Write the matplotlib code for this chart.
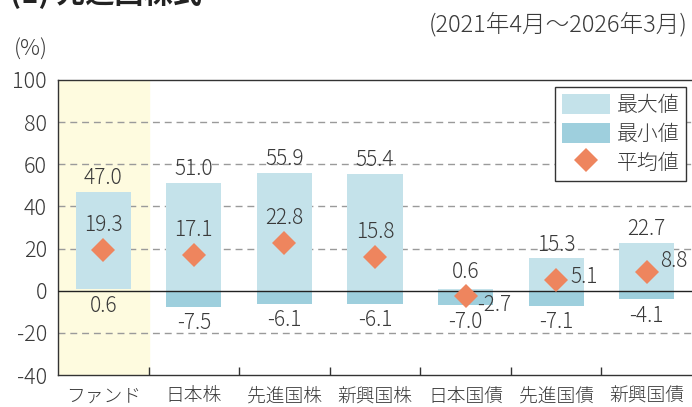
import numpy as np
import matplotlib
matplotlib.use("Agg")
import matplotlib.pyplot as plt
from matplotlib.patches import Patch
from matplotlib.lines import Line2D

plt.rcParams['font.family'] = ['Noto Sans CJK JP', 'DejaVu Sans']

categories = ['ファンド', '日本株', '先進国株', '新興国株', '日本国債', '先進国債', '新興国債']
max_vals = [47.0, 51.0, 55.9, 55.4, 0.6, 15.3, 22.7]
min_vals = [0.6, -7.5, -6.1, -6.1, -7.0, -7.1, -4.1]
mean_vals = [19.3, 17.1, 22.8, 15.8, -2.7, 5.1, 8.8]

c_light = '#c4e2ea'
c_dark = '#9ecfdd'
c_mean = '#ee855e'
c_text = '#3a3a3a'

fig = plt.figure(figsize=(6.92, 4.07), dpi=100)
ax = fig.add_axes([58/692, 32/407, 634/692, 295/407])

x = np.arange(len(categories))
w = 0.61

ax.axvspan(-0.5, 0.5, color='#fefbdf', zorder=0)

for i in x:
    lo, hi = min_vals[i], max_vals[i]
    if lo >= 0:
        ax.bar(i, hi - lo, bottom=lo, width=w, color=c_light, zorder=2)
    else:
        ax.bar(i, hi, width=w, color=c_light, zorder=2)
        ax.bar(i, lo, width=w, color=c_dark, zorder=2)

ax.plot(x, mean_vals, linestyle='none', marker='D', markersize=12,
        color=c_mean, markeredgewidth=0, zorder=4)

fs = 15
for i in x:
    top = max_vals[i]
    bot = min_vals[i]
    up = 2 if i != 4 else 5
    ax.annotate(f'{max_vals[i]:.1f}', (i, top), xytext=(0, up), textcoords='offset points',
                ha='center', va='bottom', fontsize=fs, color=c_text, fontweight='light', zorder=5)
    ax.annotate(f'{min_vals[i]:.1f}', (i, bot), xytext=(0, -4), textcoords='offset points',
                ha='center', va='top', fontsize=fs, color=c_text, fontweight='light', zorder=5)
    if i < 4:
        ax.annotate(f'{mean_vals[i]:.1f}', (i, mean_vals[i]), xytext=(0, 18), textcoords='offset points',
                    ha='center', va='center', fontsize=fs, color=c_text, fontweight='light', zorder=5)
    else:
        dx, dy = {4: (8, -6), 5: (10, 2), 6: (10, 8)}[i]
        ax.annotate(f'{mean_vals[i]:.1f}', (i, mean_vals[i]), xytext=(dx, dy), textcoords='offset points',
                    ha='left', va='center', fontsize=fs, color=c_text, fontweight='light', zorder=5)

ax.set_xlim(-0.5, len(categories) - 0.5)
ax.set_ylim(-40, 100)
ax.set_yticks(np.arange(-40, 101, 20))
ax.set_yticklabels([str(v) for v in range(-40, 101, 20)], fontweight='light')
for yv in [-20, 20, 40, 60, 80]:
    ax.axhline(yv, color='#9a9a9a', lw=1, linestyle=(0, (5, 3.5)), zorder=1)
ax.axhline(0, color='#222222', lw=1, zorder=3)

ax.set_xticks(x)
ax.set_xticklabels(categories, fontweight='light')
ax.set_xticks(np.arange(0.5, len(categories) - 0.5, 1), minor=True)
ax.tick_params(axis='x', which='major', length=0, pad=9, labelsize=13.5, colors=c_text)
ax.tick_params(axis='x', which='minor', direction='in', length=6, width=1, color='#333333')
ax.tick_params(axis='y', length=0, pad=8, labelsize=15.5, labelcolor=c_text)

for s in ['left', 'bottom', 'top']:
    ax.spines[s].set_color('#333333')
    ax.spines[s].set_linewidth(1)
ax.spines['right'].set_visible(False)

handles = [Patch(facecolor=c_light, edgecolor='none'),
           Patch(facecolor=c_dark, edgecolor='none'),
           Line2D([], [], linestyle='none', marker='D', markersize=12, color=c_mean, markeredgewidth=0)]
leg = ax.legend(handles, ['最大値', '最小値', '平均値'], loc='upper right',
                bbox_to_anchor=(628/634, 1 - 7/295), frameon=True, fancybox=False,
                edgecolor='#333333', framealpha=1, handlelength=2.3, handleheight=1.08,
                labelspacing=0.33, borderpad=0.33, handletextpad=0.3, borderaxespad=0,
                prop={'weight': 'light', 'size': 15})
leg.get_frame().set_linewidth(1)
for t in leg.get_texts():
    t.set_color(c_text)

fig.text(14/692, 1 - 50/407, '(%)', fontsize=16, color=c_text, fontweight='light', ha='left', va='center')
fig.text(688/692, 1 - 25/407, '(2021年4月～2026年3月)', fontsize=17, color=c_text, fontweight='light',
         ha='right', va='center')
fig.text(10/692, 1 - 3/407, '(1) 先進国株式', fontsize=21, fontweight='bold', color='#222222',
         ha='left', va='baseline')

fig.savefig('out.png', dpi=100)
